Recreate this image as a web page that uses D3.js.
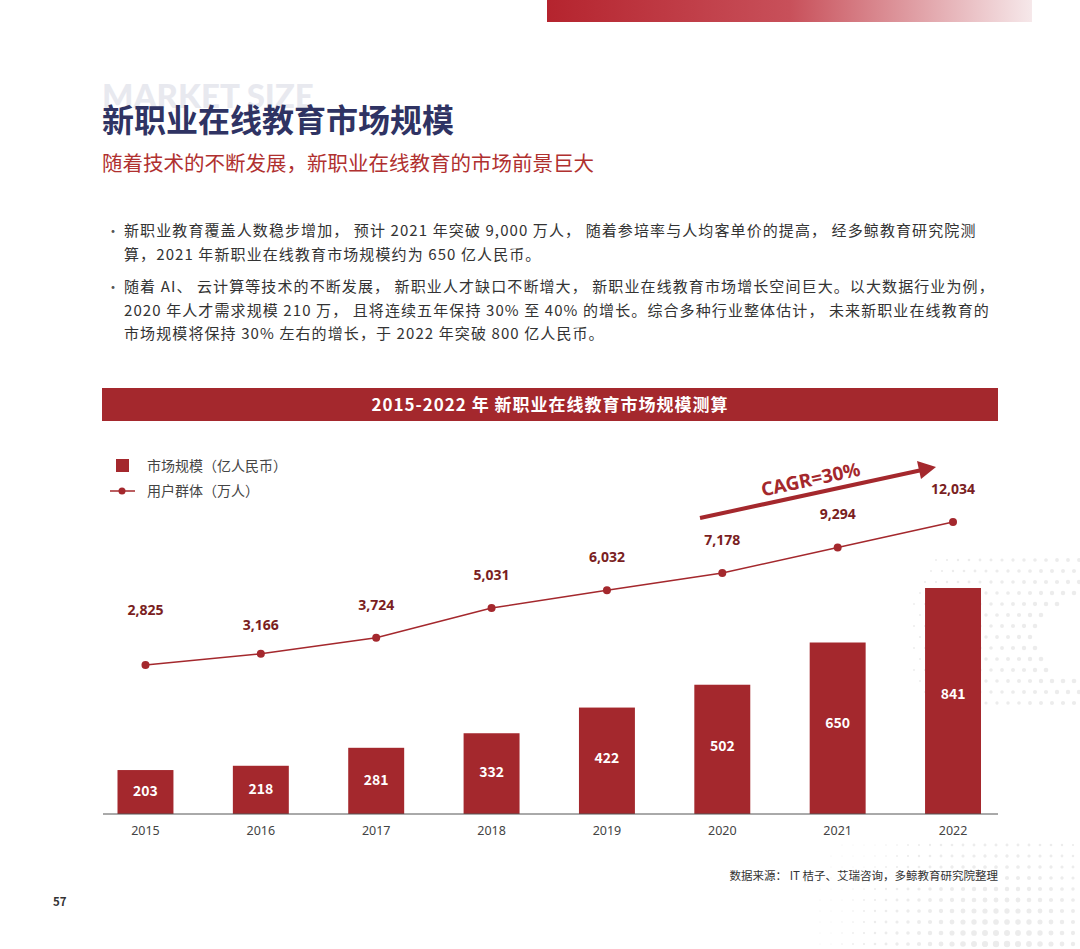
<!DOCTYPE html><html><head><meta charset="utf-8">
<script src="https://cdn.jsdelivr.net/npm/d3@7/dist/d3.min.js"></script>
<style>body{margin:0;background:#fff}svg{display:block;font-family:"Noto Sans CJK SC","Noto Sans",sans-serif}</style></head><body>
<script>
const years=["2015","2016","2017","2018","2019","2020","2021","2022"];
const market=[203,218,281,332,422,502,650,841];
const users=[2825,3166,3724,5031,6032,7178,9294,12034];
const bullets=[
 ["新职业教育覆盖人数稳步增加， 预计 2021 年突破 9,000 万人， 随着参培率与人均客单价的提高， 经多鲸教育研究院测","算，2021 年新职业在线教育市场规模约为 650 亿人民币。"],
 ["随着 AI、 云计算等技术的不断发展， 新职业人才缺口不断增大， 新职业在线教育市场增长空间巨大。以大数据行业为例，","2020 年人才需求规模 210 万， 且将连续五年保持 30% 至 40% 的增长。综合多种行业整体估计， 未来新职业在线教育的","市场规模将保持 30% 左右的增长，于 2022 年突破 800 亿人民币。"]];
const RED="#a4282d";
const svg=d3.select("body").append("svg").attr("width",1080).attr("height",949);
const defs=svg.append("defs");
const g=defs.append("linearGradient").attr("id","gr");
g.append("stop").attr("offset",0).attr("stop-color","#b5242e");
g.append("stop").attr("offset",0.5).attr("stop-color","#c8505a");
g.append("stop").attr("offset",1).attr("stop-color","#f6e8ea");
svg.append("rect").attr("x",547).attr("y",0).attr("width",485).attr("height",22).attr("fill","url(#gr)");
const dots=svg.append("g").attr("fill","#ececec");
for(let r=0;r<14;r++)for(let c=0;c<22;c++){const x=870+c*11-(r%2)*5,y=560+r*11;const d=Math.hypot(x-1080,y-640);if(d<170&&d>40)dots.append("circle").attr("cx",x).attr("cy",y).attr("r",2.2*(1-d/200)+0.6);}
for(let r=0;r<10;r++)for(let c=0;c<24;c++){const x=820+c*11,y=845+r*11;const d=Math.hypot(x-1000,y-960);if(d<200)dots.append("circle").attr("cx",x).attr("cy",y).attr("r",Math.max(0.5,3.5*(1-d/200)));}
svg.append("text").attr("x",102).attr("y",108).attr("font-size",33).attr("font-weight",900).attr("fill","#e8e9ef").attr("font-family","Lato,sans-serif").text("MARKET SIZE");
svg.append("text").attr("x",102).attr("y",132).attr("font-size",32).attr("font-weight",700).attr("fill","#2f3363").text("新职业在线教育市场规模");
svg.append("text").attr("x",102).attr("y",171).attr("font-size",20.5).attr("fill","#b0302f").text("随着技术的不断发展，新职业在线教育的市场前景巨大");
let yy=236;
bullets.forEach((b,i)=>{svg.append("text").attr("x",106).attr("y",yy).attr("font-size",14).attr("fill","#555").text("•");
 b.forEach((l,j)=>{svg.append("text").attr("x",124).attr("y",yy+j*23.5).attr("font-size",15).attr("letter-spacing",1.1).attr("fill","#333").text(l);});
 yy+=b.length*23.5+9;});
svg.append("rect").attr("x",102).attr("y",388).attr("width",896).attr("height",33).attr("fill",RED);
svg.append("text").attr("x",550).attr("y",411).attr("text-anchor","middle").attr("font-size",17).attr("font-weight",700).attr("fill","#fff").attr("letter-spacing",1).text("2015-2022 年 新职业在线教育市场规模测算");
svg.append("rect").attr("x",116).attr("y",459).attr("width",13).attr("height",13).attr("fill",RED);
svg.append("text").attr("x",147).attr("y",471).attr("font-size",14).attr("fill","#444").text("市场规模（亿人民币）");
svg.append("line").attr("x1",110).attr("x2",135).attr("y1",491).attr("y2",491).attr("stroke",RED).attr("stroke-width",1.5);
svg.append("circle").attr("cx",122).attr("cy",491).attr("r",3.5).attr("fill",RED);
svg.append("text").attr("x",147).attr("y",496).attr("font-size",14).attr("fill","#444").text("用户群体（万人）");
const x=d3.scaleBand().domain(years).range([87.5,1011]).paddingInner(0.515).paddingOuter(0.26);
const yb=d3.scaleLinear().domain([49,841]).range([814,588]);
const yl=d3.scaleLog().domain([2825,12034]).range([665,522]);
svg.append("g").selectAll("rect").data(market).join("rect").attr("x",(d,i)=>x(years[i])).attr("width",x.bandwidth())
 .attr("y",d=>yb(d)).attr("height",d=>814-yb(d)).attr("fill",RED);
svg.append("g").selectAll("text").data(market).join("text").attr("x",(d,i)=>x(years[i])+x.bandwidth()/2)
 .attr("y",d=>(yb(d)+814)/2+6-(814-yb(d))*0.035).attr("text-anchor","middle").attr("font-size",14).attr("font-weight",700).attr("fill","#fff").text(d=>d);
const ax=svg.append("g").attr("transform","translate(0,814)").call(d3.axisBottom(x).tickSize(0).tickPadding(12));
ax.select(".domain").attr("d","M103,0H998").attr("stroke","#555");
ax.selectAll("text").attr("font-size",12.5).attr("fill","#444").attr("font-family","Noto Sans,sans-serif");
const cx=(i)=>x(years[i])+x.bandwidth()/2;
svg.append("path").datum(users).attr("d",d3.line().x((d,i)=>cx(i)).y(d=>yl(d))).attr("fill","none").attr("stroke",RED).attr("stroke-width",1.5);
svg.append("g").selectAll("circle").data(users).join("circle").attr("cx",(d,i)=>cx(i)).attr("cy",d=>yl(d)).attr("r",4).attr("fill",RED);
svg.append("g").selectAll("text").data(users).join("text").attr("x",(d,i)=>cx(i)).attr("y",(d,i)=>yl(d)-(i==0?50:i==1?24:28)).attr("text-anchor","middle")
 .attr("font-size",14).attr("font-weight",700).attr("fill","#7a1e22").attr("font-family","Noto Sans,sans-serif").text(d=>d3.format(",")(d));
svg.append("line").attr("x1",700).attr("y1",518).attr("x2",922).attr("y2",470).attr("stroke",RED).attr("stroke-width",4);
svg.append("path").attr("d","M936,467 L917,461 L921,479 Z").attr("fill",RED);
svg.append("text").attr("transform","translate(812,486) rotate(-12)").attr("text-anchor","middle").attr("font-size",19).attr("font-weight",700).attr("fill",RED).attr("font-family","Noto Sans,sans-serif").text("CAGR=30%");
svg.append("text").attr("x",998).attr("y",880).attr("text-anchor","end").attr("font-size",11.5).attr("fill","#333").text("数据来源： IT 桔子、艾瑞咨询，多鲸教育研究院整理");
svg.append("text").attr("x",53).attr("y",906).attr("font-size",11.5).attr("font-weight",700).attr("fill","#333").text("57");
</script></body></html>
